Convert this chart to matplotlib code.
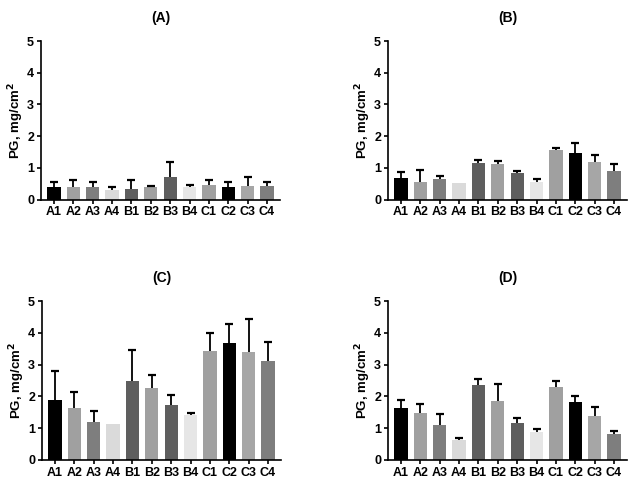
import matplotlib
matplotlib.use("Agg")
import matplotlib.pyplot as plt
import numpy as np

plt.rcParams['font.family'] = ['Liberation Sans', 'DejaVu Sans']

categories = ["A1", "A2", "A3", "A4", "B1", "B2", "B3", "B4", "C1", "C2", "C3", "C4"]
colors = ["#000000", "#a0a0a0", "#7e7e7e", "#dadada", "#5e5e5e", "#a0a0a0",
          "#5e5e5e", "#e6e6e6", "#a0a0a0", "#000000", "#a6a6a6", "#7e7e7e"]

titles = ["(A)", "(B)", "(C)", "(D)"]

mean_A = [0.41, 0.41, 0.38, 0.30, 0.34, 0.38, 0.71, 0.40, 0.47, 0.41, 0.44, 0.44]
err_A = [0.15, 0.20, 0.16, 0.09, 0.26, 0.06, 0.46, 0.07, 0.15, 0.15, 0.26, 0.10]
mean_B = [0.68, 0.55, 0.66, 0.53, 1.14, 1.11, 0.84, 0.55, 1.55, 1.48, 1.19, 0.89]
err_B = [0.19, 0.37, 0.07, 0.00, 0.10, 0.11, 0.05, 0.10, 0.06, 0.29, 0.21, 0.23]
mean_C = [1.89, 1.63, 1.18, 1.12, 2.49, 2.27, 1.74, 1.40, 3.43, 3.67, 3.41, 3.10]
err_C = [0.90, 0.50, 0.37, 0.00, 0.98, 0.40, 0.31, 0.09, 0.55, 0.61, 1.03, 0.61]
mean_D = [1.65, 1.47, 1.11, 0.64, 2.35, 1.86, 1.17, 0.88, 2.28, 1.81, 1.38, 0.83]
err_D = [0.23, 0.30, 0.33, 0.05, 0.20, 0.53, 0.15, 0.09, 0.22, 0.19, 0.28, 0.07]

means = [mean_A, mean_B, mean_C, mean_D]
errs = [err_A, err_B, err_C, err_D]

W, H = 634, 496
fig = plt.figure(figsize=(W / 100, H / 100), dpi=100)

# pixel boxes: left, right, top, bottom
boxes = [(41, 280, 41, 199.5), (388, 627, 41, 199.5),
         (42, 281, 301, 460), (388, 627, 301, 460)]

for k in range(4):
    l, r, t, b = boxes[k]
    ax = fig.add_axes([l / W, 1 - b / H, (r - l) / W, (b - t) / H])
    x = np.arange(len(categories))
    m = np.array(means[k])
    e = np.array(errs[k])
    ax.bar(x, m, width=0.69, color=colors, zorder=2)
    idx = e > 0
    _, caps, _ = ax.errorbar(x[idx], m[idx], yerr=[np.zeros(idx.sum()), e[idx]], fmt='none',
                             ecolor='black', elinewidth=1.3, capsize=2.6, capthick=1.6, zorder=3)
    if len(caps) == 2:
        caps[0].set_visible(False)
    ax.set_xlim(-0.67, 11.67)
    ax.set_ylim(0, 5)
    ax.set_yticks([0, 1, 2, 3, 4, 5])
    ax.set_xticks(x)
    ax.set_xticklabels(categories, fontsize=9, fontweight='bold')
    for lab in ax.get_yticklabels():
        lab.set_fontsize(9)
        lab.set_fontweight('bold')
    ax.spines['top'].set_visible(False)
    ax.spines['right'].set_visible(False)
    ax.spines['left'].set_linewidth(1.2)
    ax.spines['bottom'].set_linewidth(1.2)
    ax.tick_params(axis='both', direction='out', length=3, width=1.2, pad=2)
    ax.set_ylabel("PG, mg/cm$^\\mathbf{2}$", fontsize=9.5, fontweight='bold', labelpad=1)
    ax.set_title(titles[k], fontsize=10, fontweight='bold', pad=13.5)

fig.savefig("out.png", dpi=100)
